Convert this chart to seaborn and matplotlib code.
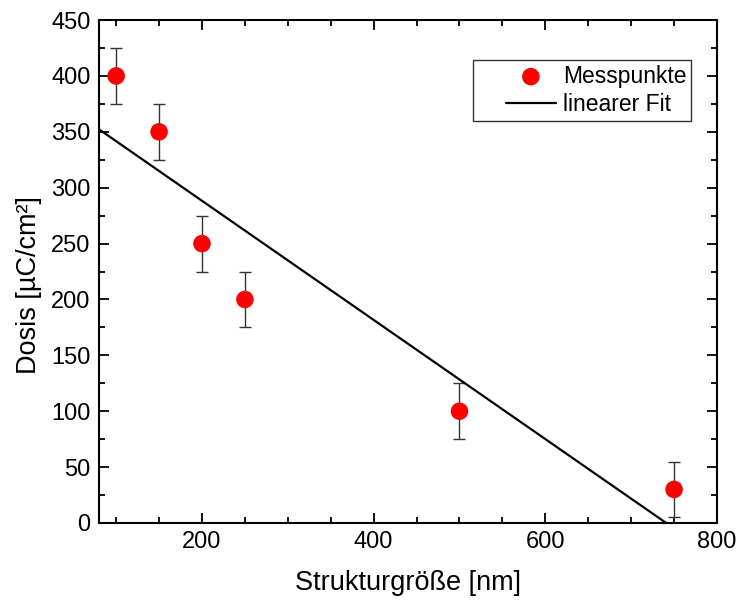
import numpy as np
import pandas as pd
import matplotlib
matplotlib.use("Agg")
import matplotlib.pyplot as plt
import seaborn as sns
from matplotlib.ticker import MultipleLocator
from matplotlib.lines import Line2D
from matplotlib.collections import PathCollection
from matplotlib.legend_handler import HandlerLine2D, HandlerPathCollection

size_nm = [100, 150, 200, 250, 500, 750]
dose = [400, 350, 250, 200, 100, 30]
dose_err = [25, 25, 25, 25, 25, 25]

sns.set_style("ticks")
plt.rcParams['font.family'] = ['Liberation Sans', 'DejaVu Sans']
plt.rcParams['text.color'] = 'black'
plt.rcParams['axes.labelcolor'] = 'black'

df = pd.DataFrame({"x": size_nm, "y": dose, "err": dose_err})

fig = plt.figure(figsize=(7.41, 6.03), dpi=100)
ax = fig.add_axes([0.1336, 0.1327, 0.834, 0.834])

xlim = (80, 800)
slope, intercept = np.polyfit(df["x"], df["y"], 1)
fit_x = np.array(xlim, dtype=float)
fit_df = pd.DataFrame({"x": fit_x, "y": slope * fit_x + intercept})

ax.errorbar(df["x"], df["y"], yerr=df["err"], fmt="none", ecolor="#333333",
            elinewidth=1.0, capsize=4.5, capthick=1.0, zorder=2)
sns.lineplot(data=fit_df, x="x", y="y", ax=ax, color="black", linewidth=1.6,
             label="linearer Fit", zorder=3)
sns.scatterplot(data=df, x="x", y="y", ax=ax, color="#ff0000", s=160,
                edgecolor="none", label="Messpunkte", zorder=4)

ax.set_xlim(*xlim)
ax.set_ylim(0, 450)
ax.xaxis.set_major_locator(MultipleLocator(200))
ax.xaxis.set_minor_locator(MultipleLocator(50))
ax.yaxis.set_major_locator(MultipleLocator(50))
ax.yaxis.set_minor_locator(MultipleLocator(25))
ax.tick_params(which="both", direction="in", top=True, right=True, width=1.3,
               labelsize=17, colors="black")
ax.tick_params(which="major", length=7, pad=6)
ax.tick_params(which="minor", length=4)
for s in ax.spines.values():
    s.set_linewidth(1.5)
    s.set_color("black")

ax.set_xlabel("Strukturgröße [nm]", fontsize=19.5, labelpad=12)
ax.set_ylabel("Dosis [µC/cm²]", fontsize=19.5)
ax.yaxis.set_label_coords(-0.092, 0.473)

handles, labels = ax.get_legend_handles_labels()
order = [labels.index("Messpunkte"), labels.index("linearer Fit")]
xp = 1.24
leg = ax.legend([handles[i] for i in order], [labels[i] for i in order],
                loc="upper right", bbox_to_anchor=(0.958, 0.9205),
                borderaxespad=0, fontsize=16.5,
                frameon=True, fancybox=False, edgecolor="black",
                handlelength=3.44, handletextpad=0.3, borderpad=0.2,
                labelspacing=0.245,
                handler_map={Line2D: HandlerLine2D(xpad=xp),
                             PathCollection: HandlerPathCollection(xpad=xp)})
leg.get_frame().set_linewidth(1.0)

fig.savefig("out.png", dpi=100)
